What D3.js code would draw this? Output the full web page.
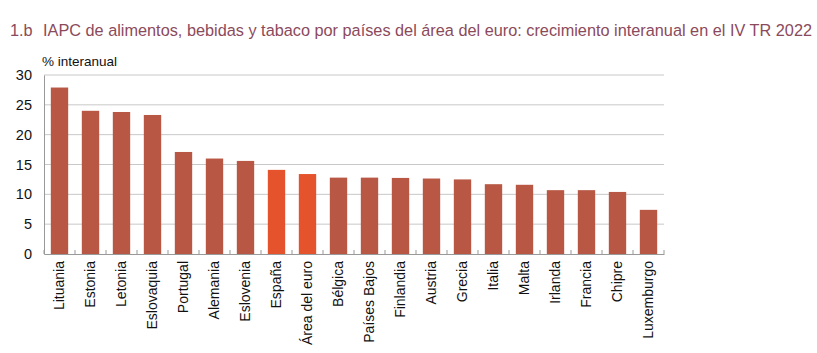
<!DOCTYPE html>
<html lang="es">
<head>
<meta charset="UTF-8">
<title>IAPC alimentos por países</title>
<style>
  body { margin: 0; background: #fff; font-family: "Liberation Sans", Arial, sans-serif; }
</style>
<script src="https://d3js.org/d3.v7.min.js"></script>
</head>
<body>
<div id="chart"></div>
<script>
  // Datos
  const paises = ["Lituania", "Estonia", "Letonia", "Eslovaquia", "Portugal", "Alemania", "Eslovenia",
    "España", "Área del euro", "Bélgica", "Países Bajos", "Finlandia", "Austria", "Grecia", "Italia",
    "Malta", "Irlanda", "Francia", "Chipre", "Luxemburgo"];
  const valores = [27.9, 24.0, 23.8, 23.3, 17.1, 16.0, 15.6, 14.1, 13.4, 12.8, 12.8, 12.75, 12.65,
    12.5, 11.7, 11.6, 10.7, 10.7, 10.4, 7.4];
  const destacados = ["España", "Área del euro"];
  const yTicks = [0, 5, 10, 15, 20, 25, 30];

  const W = 817, H = 353;
  const margin = {top: 75, right: 153, bottom: 99, left: 44};
  const width = W - margin.left - margin.right;
  const height = H - margin.top - margin.bottom;

  const svg = d3.select("#chart").append("svg")
    .attr("width", W)
    .attr("height", H);

  const titulo = svg.append("g")
    .attr("fill", "#8b4a5c")
    .attr("font-size", 16.3);
  titulo.append("text").attr("x", 10).attr("y", 36).text("1.b");
  titulo.append("text").attr("x", 43).attr("y", 36)
    .text("IAPC de alimentos, bebidas y tabaco por países del área del euro: crecimiento interanual en el IV TR 2022");

  svg.append("text")
    .attr("x", 42)
    .attr("y", 66)
    .attr("fill", "#111")
    .attr("font-size", 13.5)
    .text("% interanual");

  const g = svg.append("g")
    .attr("transform", `translate(${margin.left},${margin.top})`);

  const x = d3.scaleBand()
    .domain(paises)
    .range([0, width])
    .paddingInner(0.44)
    .paddingOuter(0.22);

  const y = d3.scaleLinear()
    .domain([0, 30])
    .range([height, 0]);

  // Rejilla
  g.append("g")
    .selectAll("line")
    .data(yTicks.filter(d => d > 0))
    .join("line")
    .attr("x1", 0)
    .attr("x2", width)
    .attr("y1", d => y(d))
    .attr("y2", d => y(d))
    .attr("stroke", "#c8c8c8")
    .attr("stroke-width", 1);

  // Eje Y
  const yAxis = g.append("g")
    .call(d3.axisLeft(y).tickValues(yTicks).tickSize(0).tickPadding(12));
  yAxis.select(".domain").attr("stroke", "#999");
  yAxis.selectAll("text")
    .attr("font-size", 14.5)
    .attr("fill", "#111")
    .attr("font-family", "Liberation Sans, Arial, sans-serif");

  // Barras
  g.append("g")
    .selectAll("rect")
    .data(paises)
    .join("rect")
    .attr("x", d => x(d))
    .attr("y", (d, i) => y(valores[i]))
    .attr("width", x.bandwidth())
    .attr("height", (d, i) => height - y(valores[i]))
    .attr("fill", d => destacados.includes(d) ? "#e4532c" : "#b85744");

  // Eje X
  const xAxis = g.append("g")
    .attr("transform", `translate(0,${height})`)
    .call(d3.axisBottom(x).tickSize(0).tickPadding(6));
  xAxis.select(".domain").attr("stroke", "#999");
  xAxis.selectAll("text")
    .attr("font-size", 14)
    .attr("fill", "#111")
    .attr("font-family", "Liberation Sans, Arial, sans-serif")
    .attr("transform", "rotate(-90)")
    .attr("text-anchor", "end")
    .attr("x", -7)
    .attr("y", 0)
    .attr("dy", "0.35em");

  // Marcas entre categorías
  const step = x.step();
  g.append("g")
    .selectAll("line")
    .data(d3.range(paises.length + 1))
    .join("line")
    .attr("x1", i => i === 0 ? 0 : x(paises[i - 1]) + x.bandwidth() + (step - x.bandwidth()) / 2)
    .attr("x2", i => i === 0 ? 0 : x(paises[i - 1]) + x.bandwidth() + (step - x.bandwidth()) / 2)
    .attr("y1", height)
    .attr("y2", height - 4)
    .attr("stroke", "#999");
</script>
</body>
</html>
